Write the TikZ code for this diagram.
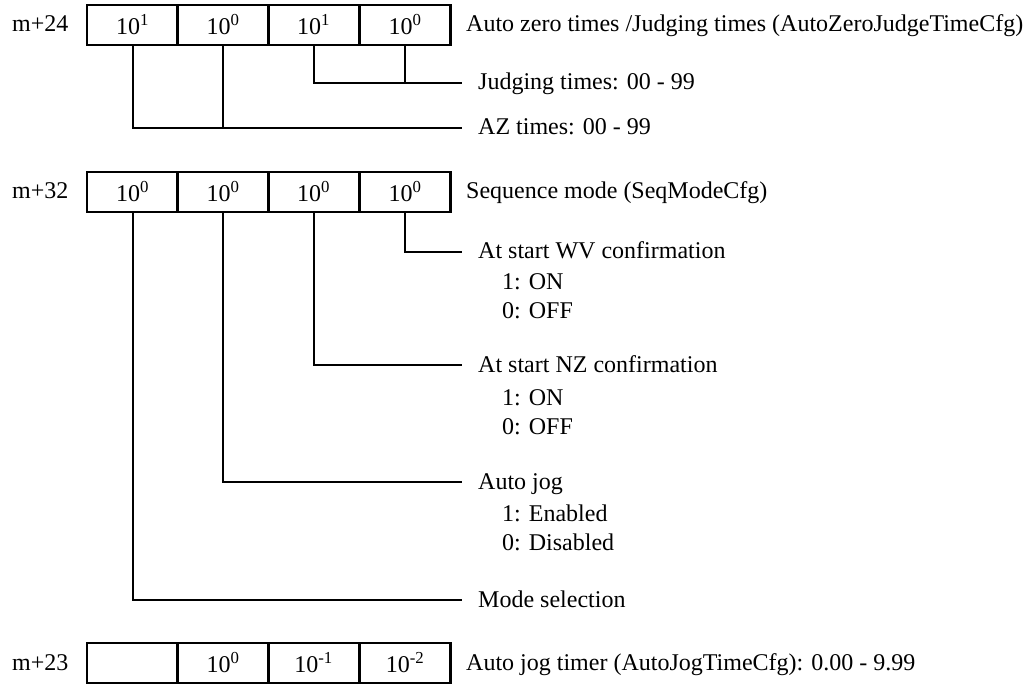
\documentclass[tikz,border=0pt]{standalone}
\usepackage{fontspec}
\setmainfont{Liberation Serif}
\begin{document}
\begin{tikzpicture}[x=1pt,y=-1pt,font=\fontsize{24}{28}\selectfont]
\tikzset{
  cell/.style={draw,line width=2.6pt,minimum width=91pt,minimum height=40pt,inner sep=0pt,anchor=center},
  lbl/.style={anchor=west,inner sep=0pt,text height=16pt,text depth=2pt},
  conn/.style={line width=2pt}
}
\useasboundingbox (0,0) rectangle (1030,684);
% ---- m+24
\node[lbl] (r1) at (12,25) {m+24};
\node[cell] (a1) at (132.5,25) {10\textsuperscript{1}};
\node[cell] (a2) at (223,25) {10\textsuperscript{0}};
\node[cell] (a3) at (313.5,25) {10\textsuperscript{1}};
\node[cell] (a4) at (405,25) {10\textsuperscript{0}};
\node[lbl] (t1) at (466,25) {Auto zero times /Judging times (AutoZeroJudgeTimeCfg)};
\coordinate (jend) at (462,83);
\coordinate (azend) at (462,128);
\node[lbl] (jt) at (478,83) {Judging times: 00 - 99};
\node[lbl] (azt) at (478,128) {AZ times: 00 - 99};
\draw[conn] (a3.south) |- (jend);
\draw[conn] (a4.south) -- (a4.south |- jend);
\draw[conn] (a1.south) |- (azend);
\draw[conn] (a2.south) -- (a2.south |- azend);
% ---- m+32
\node[lbl] (r2) at (12,192) {m+32};
\node[cell] (b1) at (132.5,192) {10\textsuperscript{0}};
\node[cell] (b2) at (223,192) {10\textsuperscript{0}};
\node[cell] (b3) at (313.5,192) {10\textsuperscript{0}};
\node[cell] (b4) at (405,192) {10\textsuperscript{0}};
\node[lbl] (t2) at (466,192) {Sequence mode (SeqModeCfg)};
\coordinate (wvend) at (462,252);
\coordinate (nzend) at (462,365);
\coordinate (ajend) at (462,482);
\coordinate (msend) at (462,600);
\node[lbl] (wv) at (478,252) {At start WV confirmation};
\node[lbl] (wv1) at (502,283) {1: ON};
\node[lbl] (wv0) at (502,312) {0: OFF};
\node[lbl] (nz) at (478,365) {At start NZ confirmation};
\node[lbl] (nz1) at (502,398) {1: ON};
\node[lbl] (nz0) at (502,427) {0: OFF};
\node[lbl] (aj) at (478,482) {Auto jog};
\node[lbl] (aj1) at (502,514) {1: Enabled};
\node[lbl] (aj0) at (502,543) {0: Disabled};
\node[lbl] (ms) at (478,600) {Mode selection};
\draw[conn] (b4.south) |- (wvend);
\draw[conn] (b3.south) |- (nzend);
\draw[conn] (b2.south) |- (ajend);
\draw[conn] (b1.south) |- (msend);
% ---- m+23
\node[lbl] (r3) at (12,663) {m+23};
\node[cell] (c1) at (132.5,663) {};
\node[cell] (c2) at (223,663) {10\textsuperscript{0}};
\node[cell] (c3) at (313.5,663) {10\textsuperscript{-1}};
\node[cell] (c4) at (405,663) {10\textsuperscript{-2}};
\node[lbl] (t3) at (466,663) {Auto jog timer (AutoJogTimeCfg): 0.00 - 9.99};
\end{tikzpicture}
\end{document}
